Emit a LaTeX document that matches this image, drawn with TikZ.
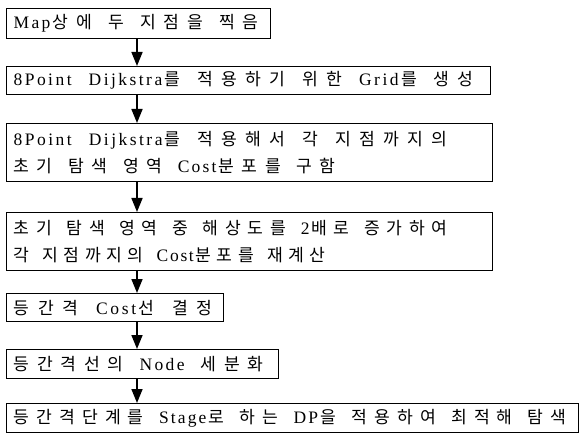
\documentclass[tikz,border=0pt]{standalone}
\usepackage{fontspec}
\setmainfont{Liberation Serif}
\newfontfamily\kr{Noto Sans CJK KR}[Scale=0.98]
\usetikzlibrary{arrows.meta}
\makeatletter
% distributed text: #1 target width, #2 text with | as word space
\newcommand\dist[2]{\makebox[#1][s]{\d@loop#2\@nil\unskip}}
\def\d@loop#1{\ifx#1\@nil\else\d@one{#1}\expandafter\d@loop\fi}
\def\d@one#1{\ifx#1|\unskip\hskip 4pt plus 1.6fil\relax
  \else\ifnum`#1>255\relax{\kr #1}\hskip 0pt plus 1fil\relax
  \else #1\hskip 0pt plus 0.3fil\relax\fi\fi}
\makeatother
\begin{document}
\begin{tikzpicture}[x=1pt,y=-1pt,
  box/.style={draw=black,line width=1.3pt,anchor=north west,inner xsep=7pt,inner ysep=0pt,
    align=left,font=\fontsize{17.5}{27}\selectfont},
  arr/.style={line width=1.6pt,-{Triangle[length=14pt,width=11pt]}}]
\useasboundingbox[fill=white] (0,0) rectangle (585,435);
\coordinate (ax) at (137,0);
\node[box,text width=250pt,minimum height=30pt] (b1) at (6,8) {\dist{245pt}{Map상에|두|지점을|찍음}};
\node[box,text width=470pt,minimum height=28pt] (b2) at (6,66) {\dist{460pt}{8Point|Dijkstra를|적용하기|위한|Grid를|생성}};
\node[box,text width=472pt,minimum height=58pt] (b3) at (6,123) {\dist{434pt}{8Point|Dijkstra를|적용해서|각|지점까지의}\\\dist{322pt}{초기|탐색|영역|Cost분포를|구함}};
\node[box,text width=472pt,minimum height=58pt] (b4) at (6,212) {\dist{434pt}{초기|탐색|영역|중|해상도를|2배로|증가하여}\\\dist{312pt}{각|지점까지의|Cost분포를|재계산}};
\node[box,text width=203pt,minimum height=28pt] (b5) at (6,293) {\dist{199pt}{등간격|Cost선|결정}};
\node[box,text width=258pt,minimum height=29pt] (b6) at (6,349) {\dist{250pt}{등간격선의|Node|세분화}};
\node[box,text width=558pt,minimum height=29pt] (b7) at (6,403) {\dist{553pt}{등간격단계를|Stage로|하는|DP을|적용하여|최적해|탐색}};
\draw[arr] (b1.south -| ax) -- (b2.north -| ax);
\draw[arr] (b2.south -| ax) -- (b3.north -| ax);
\draw[arr] (b3.south -| ax) -- (b4.north -| ax);
\draw[arr] (b4.south -| ax) -- (b5.north -| ax);
\draw[arr] (b5.south -| ax) -- (b6.north -| ax);
\draw[arr] (b6.south -| ax) -- (b7.north -| ax);
\end{tikzpicture}
\end{document}
